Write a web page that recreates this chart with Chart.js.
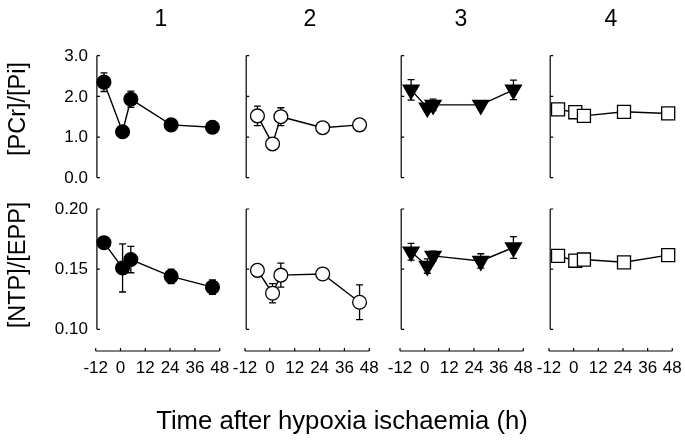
<!DOCTYPE html>
<html>
<head>
<meta charset="utf-8">
<script src="https://cdn.jsdelivr.net/npm/chart.js@4.4.1/dist/chart.umd.min.js"></script>
<style>
  body { margin: 0; background: #fff; }
  #wrap { position: relative; width: 685px; height: 446px; font-family: "Liberation Sans", Arial, sans-serif; color: #000; }
  #wrap canvas { position: absolute; left: 0; top: 0; }
  .lbl { position: absolute; white-space: nowrap; line-height: 1; transform: translate(-50%, -50%); }
  .rot { transform: translate(-50%, -50%) rotate(-90deg); }
</style>
</head>
<body>
<div id="wrap"></div>
<script>
// Данные
const groupNames = ['1', '2', '3', '4'];
const xTicks = [-12, 0, 12, 24, 36, 48];
const pcrTicks = [0, 1, 2, 3];
const pcrTickLabels = ['0.0', '1.0', '2.0', '3.0'];
const ntpTicks = [0.10, 0.15, 0.20];
const ntpTickLabels = ['0.10', '0.15', '0.20'];
const xTitle = 'Time after hypoxia ischaemia (h)';
const pcrTitle = '[PCr]/[Pi]';
const ntpTitle = '[NTP]/[EPP]';

// время измерений (ч) для каждой группы
const hours1 = [-8, 1, 5, 24.5, 44.5];
const hours2 = [-6, 1.3, 5.3, 25.5, 43.3];
const hours3 = [-6.6, 1.3, 4.1, 27.3, 43.2];
const hours4 = [-7.6, 0.8, 5, 24.5, 46];

// [PCr]/[Pi]
const pcr1 = [2.35, 1.13, 1.93, 1.30, 1.24];
const pcrErr1 = [0.23, 0.12, 0.20, 0.08, 0.06];
const pcr2 = [1.52, 0.83, 1.50, 1.23, 1.30];
const pcrErr2 = [0.24, 0.10, 0.22, 0.05, 0.05];
const pcr3 = [2.16, 1.72, 1.79, 1.79, 2.16];
const pcrErr3 = [0.25, 0.10, 0.14, 0.08, 0.24];
const pcr4 = [1.68, 1.61, 1.52, 1.62, 1.58];
const pcrErr4 = [0.05, 0.08, 0.15, 0.05, 0.05];

// [NTP]/[EPP]
const ntp1 = [0.172, 0.151, 0.158, 0.144, 0.135];
const ntpErr1 = [0.004, 0.020, 0.011, 0.006, 0.006];
const ntp2 = [0.149, 0.130, 0.145, 0.146, 0.1225];
const ntpErr2 = [0.004, 0.008, 0.010, 0.004, 0.0145];
const ntp3 = [0.1645, 0.1526, 0.161, 0.1568, 0.168];
const ntpErr3 = [0.007, 0.006, 0.004, 0.006, 0.009];
const ntp4 = [0.161, 0.157, 0.158, 0.1557, 0.1617];
const ntpErr4 = [0.003, 0.005, 0.003, 0.003, 0.003];

const W = 685, H = 446;
const FONT = '"Liberation Sans", Arial, sans-serif';

// Раскладка панелей (пиксели)
const colLeft = [95.7, 245, 400, 549];
const colRight = [219.7, 369.3, 523.3, 672.3];
const rowTop = [55.7, 209];
const rowBottom = [177.7, 329.3];

// Стиль маркеров для групп
const markers = [
  { pointStyle: 'circle', pointRadius: 6.9, pointBackgroundColor: '#000', pointRotation: 0 },
  { pointStyle: 'circle', pointRadius: 6.9, pointBackgroundColor: '#fff', pointRotation: 0 },
  { pointStyle: 'triangle', pointRadius: 9.2, pointBackgroundColor: '#000', pointRotation: 180 },
  { pointStyle: 'rect', pointRadius: 9.2, pointBackgroundColor: '#fff', pointRotation: 0 },
];

// Планки погрешностей (рисуются под маркерами)
const errorBars = {
  id: 'errorBars',
  beforeDatasetsDraw(chart) {
    const { ctx, scales: { x, y } } = chart;
    ctx.save();
    ctx.strokeStyle = '#000';
    ctx.lineWidth = 1.3;
    chart.data.datasets.forEach((ds) => {
      (ds.errors || []).forEach((e, i) => {
        const px = x.getPixelForValue(ds.data[i].x);
        const hi = y.getPixelForValue(ds.data[i].y + e);
        const lo = y.getPixelForValue(ds.data[i].y - e);
        ctx.beginPath();
        ctx.moveTo(px, hi); ctx.lineTo(px, lo);
        ctx.moveTo(px - 3.5, hi); ctx.lineTo(px + 3.5, hi);
        ctx.moveTo(px - 3.5, lo); ctx.lineTo(px + 3.5, lo);
        ctx.stroke();
      });
    });
    ctx.restore();
  },
};

// Оси в виде скобок, как на оригинале
const panelAxes = {
  id: 'panelAxes',
  beforeDatasetsDraw(chart, args, opts) {
    const { ctx, scales: { x, y } } = chart;
    ctx.save();
    ctx.strokeStyle = '#000';
    ctx.fillStyle = '#000';
    ctx.lineWidth = 1.2;
    const ax = x.getPixelForValue(x.min) + 1.2;
    ctx.beginPath();
    ctx.moveTo(ax, y.getPixelForValue(y.max));
    ctx.lineTo(ax, y.getPixelForValue(y.min));
    opts.yTicks.forEach((v) => {
      const py = y.getPixelForValue(v);
      ctx.moveTo(ax, py); ctx.lineTo(ax + 3, py);
    });
    ctx.stroke();

    ctx.font = '17px ' + FONT;
    if (opts.yLabels) {
      ctx.textAlign = 'right';
      ctx.textBaseline = 'middle';
      opts.yTicks.forEach((v, i) => {
        ctx.fillText(opts.yLabels[i], ax - 9, y.getPixelForValue(v) + 0.5);
      });
    }

    if (opts.xTicks) {
      const py = y.getPixelForValue(y.min) + opts.xGap;
      ctx.beginPath();
      ctx.moveTo(x.getPixelForValue(x.min), py);
      ctx.lineTo(x.getPixelForValue(x.max), py);
      opts.xTicks.forEach((v) => {
        const px = x.getPixelForValue(v);
        ctx.moveTo(px, py); ctx.lineTo(px, py - 3);
      });
      ctx.stroke();
      ctx.textAlign = 'center';
      ctx.textBaseline = 'middle';
      opts.xTicks.forEach((v) => {
        ctx.fillText(String(v), x.getPixelForValue(v), py + 17.5);
      });
    }
    ctx.restore();
  },
};

const wrap = document.getElementById('wrap');

function makePanel(col, row, hours, values, errors, yTicks, yLabels) {
  const canvas = document.createElement('canvas');
  canvas.width = W;
  canvas.height = H;
  wrap.appendChild(canvas);
  const m = markers[col];
  new Chart(canvas, {
    type: 'line',
    data: {
      datasets: [{
        data: hours.map((h, i) => ({ x: h, y: values[i] })),
        errors: errors,
        borderColor: '#000',
        borderWidth: 1.4,
        pointStyle: m.pointStyle,
        pointRadius: m.pointRadius,
        pointRotation: m.pointRotation,
        pointBackgroundColor: m.pointBackgroundColor,
        pointBorderColor: '#000',
        pointBorderWidth: 1.3,
        tension: 0,
        fill: false,
        clip: false,
      }],
    },
    options: {
      responsive: false,
      animation: false,
      events: [],
      layout: {
        padding: {
          left: colLeft[col],
          right: W - colRight[col],
          top: rowTop[row],
          bottom: H - rowBottom[row],
        },
      },
      plugins: {
        legend: { display: false },
        tooltip: { enabled: false },
        panelAxes: {
          yTicks: yTicks,
          yLabels: col === 0 ? yLabels : null,
          xTicks: row === 1 ? xTicks : null,
          xGap: 21.7,
        },
      },
      scales: {
        x: { type: 'linear', min: xTicks[0], max: xTicks[xTicks.length - 1], display: false },
        y: { type: 'linear', min: yTicks[0], max: yTicks[yTicks.length - 1], display: false },
      },
    },
    plugins: [panelAxes, errorBars],
  });
}

const hoursAll = [hours1, hours2, hours3, hours4];
const pcrAll = [pcr1, pcr2, pcr3, pcr4];
const pcrErrAll = [pcrErr1, pcrErr2, pcrErr3, pcrErr4];
const ntpAll = [ntp1, ntp2, ntp3, ntp4];
const ntpErrAll = [ntpErr1, ntpErr2, ntpErr3, ntpErr4];

for (let c = 0; c < 4; c++) {
  makePanel(c, 0, hoursAll[c], pcrAll[c], pcrErrAll[c], pcrTicks, pcrTickLabels);
  makePanel(c, 1, hoursAll[c], ntpAll[c], ntpErrAll[c], ntpTicks, ntpTickLabels);
}

// Подписи
function addLabel(text, x, y, size, rotated) {
  const d = document.createElement('div');
  d.className = 'lbl' + (rotated ? ' rot' : '');
  d.style.left = x + 'px';
  d.style.top = y + 'px';
  d.style.fontSize = size + 'px';
  d.textContent = text;
  wrap.appendChild(d);
}

const numberX = [161, 310, 461, 611];
groupNames.forEach((n, i) => addLabel(n, numberX[i], 18.3, 23));
addLabel(pcrTitle, 18.3, 108.8, 23.5, true);
addLabel(ntpTitle, 18.3, 265, 23.5, true);
addLabel(xTitle, 342, 421, 25.7);
</script>
</body>
</html>
